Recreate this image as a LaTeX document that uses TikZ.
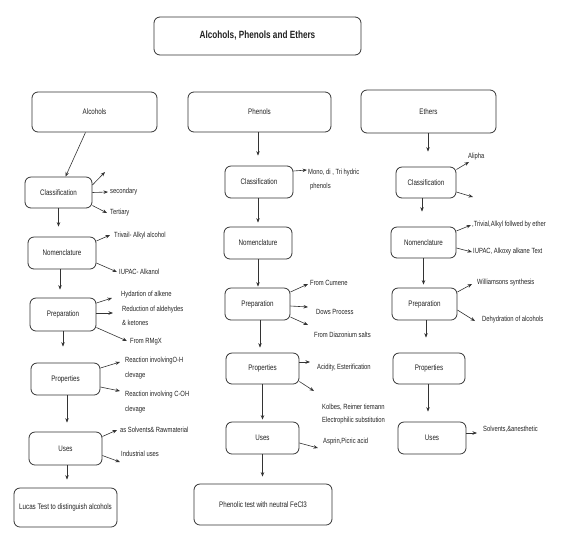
\documentclass[tikz,border=0pt]{standalone}
\usepackage{fontspec}
\setmainfont[FakeStretch=0.78]{Liberation Sans}
\usetikzlibrary{arrows.meta}
\definecolor{ln}{HTML}{333333}
\definecolor{tx}{HTML}{222222}
\tikzset{
  box/.style={draw=ln, line width=0.8pt, rounded corners=6pt, fill=white, text=tx, font=\fontsize{8}{9}\selectfont, inner sep=0pt},
  lbl/.style={anchor=west, text=tx, font=\fontsize{7.5}{8}\selectfont, inner sep=0pt},
  arr/.style={draw=ln, line width=0.6pt, -{Stealth[length=4.5pt,width=3.5pt]}},
}
\begin{document}
\begin{tikzpicture}[x=1pt,y=-1pt]
\useasboundingbox (0,0) rectangle (564,547);
% top boxes
\node[box, minimum width=207pt, minimum height=38pt, font=\bfseries\fontsize{10.5}{12}\selectfont] (title) at (257.5,36) {Alcohols, Phenols and Ethers};
\node[box, minimum width=125pt, minimum height=40pt] (alc) at (94.5,112) {Alcohols};
\node[box, minimum width=143pt, minimum height=40pt] (phe) at (259.5,112) {Phenols};
\node[box, minimum width=135pt, minimum height=43pt] (eth) at (428.5,111.5) {Ethers};
% alcohols column
\node[box, minimum width=67pt, minimum height=31pt] (cls1) at (58.5,192.5) {Classification};
\node[box, minimum width=68pt, minimum height=32pt] (nom1) at (62,253) {Nomenclature};
\node[box, minimum width=66pt, minimum height=33pt] (prep1) at (63,314.5) {Preparation};
\node[box, minimum width=69pt, minimum height=32pt] (prop1) at (65.5,379) {Properties};
\node[box, minimum width=73pt, minimum height=33pt] (uses1) at (65.5,448.5) {Uses};
\node[box, minimum width=103pt, minimum height=39pt] (lucas) at (65.5,507.5) {Lucas Test to distinguish alcohols};
% phenols column
\node[box, minimum width=68pt, minimum height=32pt] (cls2) at (259,182) {Classification};
\node[box, minimum width=68pt, minimum height=32pt] (nom2) at (258,243) {Nomenclature};
\node[box, minimum width=65pt, minimum height=32pt] (prep2) at (257.5,304) {Preparation};
\node[box, minimum width=73pt, minimum height=31pt] (prop2) at (262.5,368.5) {Properties};
\node[box, minimum width=73pt, minimum height=32pt] (uses2) at (262.5,438) {Uses};
\node[box, minimum width=138pt, minimum height=41pt] (fecl) at (263,504.5) {Phenolic test with neutral FeCl3};
% ethers column
\node[box, minimum width=60pt, minimum height=31pt] (cls3) at (426,182.5) {Classification};
\node[box, minimum width=65pt, minimum height=31pt] (nom3) at (423.5,242.5) {Nomenclature};
\node[box, minimum width=65pt, minimum height=32pt] (prep3) at (424.5,304) {Preparation};
\node[box, minimum width=72pt, minimum height=31pt] (prop3) at (429,368.5) {Properties};
\node[box, minimum width=68pt, minimum height=32pt] (uses3) at (432,438) {Uses};
% vertical arrows
\draw[arr] ([xshift=-9pt]alc.south) -- ([xshift=7pt]cls1.north);
\draw[arr, shorten >=10pt] (cls1.south) -- (cls1.south |- nom1.north);
\draw[arr, shorten >=8pt] ([xshift=-2pt]nom1.south) -- ([xshift=-2pt]nom1.south |- prep1.north);
\draw[arr, shorten >=16pt] (prep1.south) -- (prep1.south |- prop1.north);
\draw[arr, shorten >=9pt] ([xshift=1.5pt]prop1.south) -- ([xshift=1.5pt]prop1.south |- uses1.north);
\draw[arr, shorten >=8pt] ([xshift=1.5pt]uses1.south) -- ([xshift=1.5pt]uses1.south |- lucas.north);
\draw[arr, shorten >=10pt] ([xshift=-1.5pt]phe.south) -- ([xshift=-1.5pt]phe.south |- cls2.north);
\draw[arr, shorten >=4pt] ([xshift=-1pt]cls2.south) -- ([xshift=-1pt]cls2.south |- nom2.north);
\draw[arr, shorten >=1pt] (nom2.south) -- (nom2.south |- prep2.north);
\draw[arr, shorten >=5pt] ([xshift=2.5pt]prep2.south) -- ([xshift=2.5pt]prep2.south |- prop2.north);
\draw[arr, shorten >=2pt] (prop2.south) -- (prop2.south |- uses2.north);
\draw[arr, shorten >=7pt] (uses2.south) -- (uses2.south |- fecl.north);
\draw[arr, shorten >=15pt] ([xshift=-0.5pt]eth.south) -- ([xshift=-0.5pt]eth.south |- cls3.north);
\draw[arr, shorten >=15pt] ([xshift=-4pt]cls3.south) -- ([xshift=-4pt]cls3.south |- nom3.north);
\draw[arr, shorten >=3pt] (nom3.south) -- (nom3.south |- prep3.north);
\draw[arr, shorten >=15pt] ([xshift=1.5pt]prep3.south) -- ([xshift=1.5pt]prep3.south |- prop3.north);
\draw[arr, shorten >=10pt] ([xshift=-1pt]prop3.south) -- ([xshift=-1pt]prop3.south |- uses3.north);
% side arrow end points
\coordinate (a1) at (105,172);
\coordinate (a2) at (108,192);
\coordinate (a3) at (107,213);
\coordinate (b1) at (110,235);
\coordinate (b2) at (117,272);
\coordinate (c1) at (112,298);
\coordinate (c2) at (113,313);
\coordinate (c3) at (127,341);
\coordinate (d1) at (120,362);
\coordinate (d2) at (120,391);
\coordinate (e1) at (117,430);
\coordinate (e2) at (120,462);
\coordinate (f1) at (307,170);
\coordinate (g1) at (308,284);
\coordinate (g2) at (308,307);
\coordinate (g3) at (308,325);
\coordinate (h1) at (310,362);
\coordinate (h2) at (314,391);
\coordinate (i1) at (318,448);
\coordinate (j1) at (469,162);
\coordinate (j2) at (473,197);
\coordinate (k1) at (471,225);
\coordinate (k2) at (472,252);
\coordinate (l1) at (472,284);
\coordinate (l2) at (475,321);
\coordinate (m1) at (477,433);
% side arrows
\draw[arr] ([yshift=7.5pt]cls1.east) -- (a1);
\draw[arr] (cls1.east) -- (a2);
\draw[arr] ([yshift=-13pt]cls1.east) -- (a3);
\draw[arr] ([yshift=12pt]nom1.east) -- (b1);
\draw[arr] ([yshift=-10pt]nom1.east) -- (b2);
\draw[arr] ([yshift=11.5pt]prep1.east) -- (c1);
\draw[arr] ([yshift=1.5pt]prep1.east) -- (c2);
\draw[arr] ([yshift=-13pt]prep1.east) -- (c3);
\draw[arr] ([yshift=11pt]prop1.east) -- (d1);
\draw[arr] ([yshift=-8pt]prop1.east) -- (d2);
\draw[arr] ([yshift=12pt]uses1.east) -- (e1);
\draw[arr] ([yshift=-7pt]uses1.east) -- (e2);
\draw[arr] ([yshift=11pt]cls2.east) -- (f1);
\draw[arr] ([yshift=12pt]prep2.east) -- (g1);
\draw[arr] ([yshift=-2pt]prep2.east) -- (g2);
\draw[arr] ([yshift=-13pt]prep2.east) -- (g3);
\draw[arr] ([yshift=6.5pt]prop2.east) -- (h1);
\draw[arr] ([yshift=-13pt]prop2.east) -- (h2);
\draw[arr] ([yshift=-5pt]uses2.east) -- (i1);
\draw[arr] ([yshift=13pt]cls3.east) -- (j1);
\draw[arr] ([yshift=-9.5pt]cls3.east) -- (j2);
\draw[arr] ([yshift=11.5pt]nom3.east) -- (k1);
\draw[arr] ([yshift=-5.5pt]nom3.east) -- (k2);
\draw[arr] ([yshift=12pt]prep3.east) -- (l1);
\draw[arr] ([yshift=-6pt]prep3.east) -- (l2);
\draw[arr] ([yshift=5pt]uses3.east) -- (m1);
% labels
\node[lbl] (t1) at (110,192) {secondary};
\node[lbl] (t2) at (110,213) {Tertiary};
\node[lbl] (t3) at (114,236) {Trivail- Alkyl alcohol};
\node[lbl] (t4) at (119,272) {IUPAC- Alkanol};
\node[lbl] (t5) at (121,295) {Hydartion of alkene};
\node[lbl] (t6) at (122,310) {Reduction of aldehydes};
\node[lbl] (t7) at (122,323) {\& ketones};
\node[lbl] (t8) at (130,342) {From RMgX};
\node[lbl] (t9) at (125,361) {Reaction involvingO-H};
\node[lbl] (t10) at (125,376) {clevage};
\node[lbl] (t11) at (125,395) {Reaction involving C-OH};
\node[lbl] (t12) at (125,410) {clevage};
\node[lbl] (t13) at (120,430) {as Solvents\& Rawmaterial};
\node[lbl] (t14) at (121,454) {Industrial uses};
\node[lbl] (t15) at (308,173) {Mono, di , Tri hydric};
\node[lbl] (t16) at (310,187) {phenols};
\node[lbl] (t17) at (310,283) {From Cumene};
\node[lbl] (t18) at (316,312) {Dows Process};
\node[lbl] (t19) at (314,335) {From Diazonium salts};
\node[lbl] (t20) at (317,368) {Acidity, Esterification};
\node[lbl] (t21) at (322,407) {Kolbes, Reimer tiemann};
\node[lbl] (t22) at (322,421) {Electrophilic substitution};
\node[lbl] (t23) at (323,442) {Asprin,Picric acid};
\node[lbl] (t24) at (468,157) {Alipha};
\node[lbl] (t25) at (472,225) {,Trivial,Alkyl follwed by ether};
\node[lbl] (t26) at (473,252) {IUPAC, Alkoxy alkane Text};
\node[lbl] (t27) at (477,283) {Williamsons synthesis};
\node[lbl] (t28) at (482,320) {Dehydration of alcohols};
\node[lbl] (t29) at (483,429) {Solvents,\&anesthetic};
\end{tikzpicture}
\end{document}
